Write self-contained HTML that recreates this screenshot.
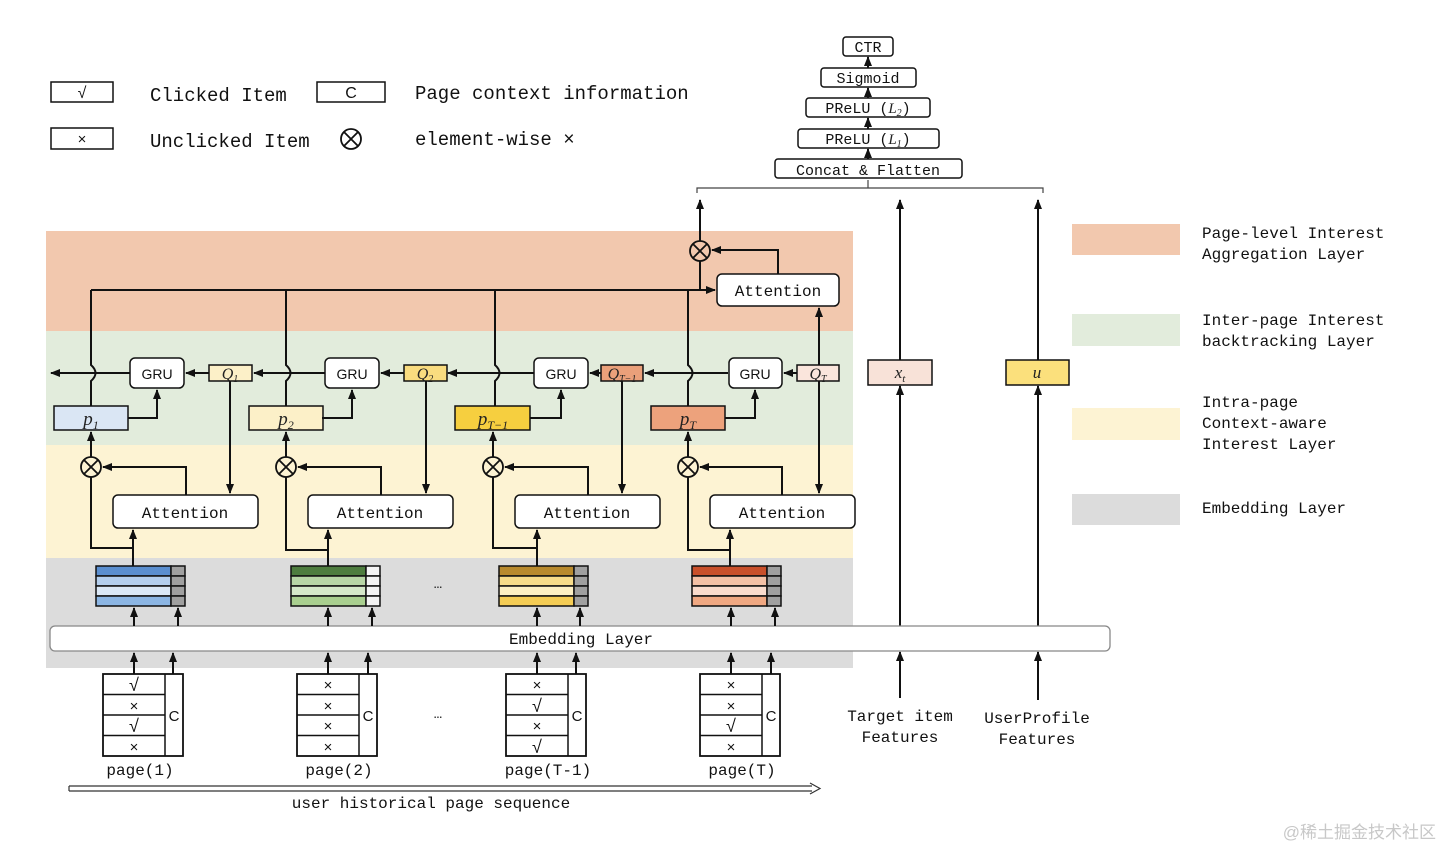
<!DOCTYPE html>
<html><head><meta charset="utf-8"><style>
html,body{margin:0;padding:0;background:#fff}
svg{display:block}
.m{font-family:"Liberation Mono",monospace;fill:#111}
.s{font-family:"Liberation Sans",sans-serif;fill:#111}
.i{font-family:"Liberation Serif",serif;font-style:italic;fill:#222}
.ln{stroke:#111;stroke-width:2;fill:none}
.bx{stroke:#111;stroke-width:1.5}
</style></head><body>
<svg width="1442" height="848" viewBox="0 0 1442 848" xmlns="http://www.w3.org/2000/svg">
<defs>
<marker id="a" markerWidth="10" markerHeight="10" refX="9" refY="5" orient="auto" markerUnits="userSpaceOnUse"><path d="M0,1 L10,5 L0,9 z" fill="#111"/></marker>
<g id="ot"><circle r="10" fill="none" stroke="#111" stroke-width="1.8"/><path d="M-7,-7 L7,7 M7,-7 L-7,7" stroke="#111" stroke-width="1.8"/></g>
</defs>

<!-- bands -->
<rect x="46" y="231" width="807" height="100" fill="#f2c8ae"/>
<rect x="46" y="331" width="807" height="114" fill="#e2ecdc"/>
<rect x="46" y="445" width="807" height="113" fill="#fdf3d3"/>
<rect x="46" y="558" width="807" height="110" fill="#dcdcdc"/>

<!-- legend top -->
<rect x="51" y="82" width="62" height="20" fill="#fff" class="bx"/><text x="82" y="98" class="s" font-size="16" text-anchor="middle">√</text>
<text x="150" y="101" class="m" font-size="19">Clicked Item</text>
<rect x="317" y="82" width="68" height="20" fill="#fff" class="bx"/><text x="351" y="98" class="s" font-size="16" text-anchor="middle">C</text>
<text x="415" y="99" class="m" font-size="19">Page context information</text>
<rect x="51" y="128" width="62" height="21" fill="#fff" class="bx"/><text x="82" y="144" class="s" font-size="15" text-anchor="middle">×</text>
<text x="150" y="147" class="m" font-size="19">Unclicked Item</text>
<use href="#ot" x="351" y="139"/>
<text x="415" y="145" class="m" font-size="19">element-wise ×</text>

<!-- right legend -->
<rect x="1072" y="224" width="108" height="31" fill="#f2c8ae"/>
<rect x="1072" y="314" width="108" height="32" fill="#e2ecdc"/>
<rect x="1072" y="408" width="108" height="32" fill="#fdf3d3"/>
<rect x="1072" y="494" width="108" height="31" fill="#dcdcdc"/>
<g class="m" font-size="16">
<text x="1202" y="238">Page-level Interest</text><text x="1202" y="259">Aggregation Layer</text>
<text x="1202" y="325">Inter-page Interest</text><text x="1202" y="346">backtracking Layer</text>
<text x="1202" y="407">Intra-page</text><text x="1202" y="428">Context-aware</text><text x="1202" y="449">Interest Layer</text>
<text x="1202" y="513">Embedding Layer</text>
</g>

<!-- top stack -->
<g fill="#fff" class="bx">
<rect x="843" y="37" width="50" height="19" rx="3"/>
<rect x="821" y="68" width="95" height="19" rx="3"/>
<rect x="806" y="98" width="124" height="19" rx="3"/>
<rect x="798" y="129" width="141" height="19" rx="3"/>
<rect x="775" y="159" width="187" height="19" rx="3"/>
</g>
<g class="m" font-size="15" text-anchor="middle">
<text x="868" y="52">CTR</text>
<text x="868" y="83">Sigmoid</text>
<text x="868" y="113">PReLU (<tspan class="i">L</tspan><tspan class="i" font-size="10" dy="3">2</tspan><tspan dy="-3">)</tspan></text>
<text x="868" y="144">PReLU (<tspan class="i">L</tspan><tspan class="i" font-size="10" dy="3">1</tspan><tspan dy="-3">)</tspan></text>
<text x="868" y="175">Concat &amp; Flatten</text>
</g>
<g class="ln" stroke-width="1.5" marker-end="url(#a)">
<path d="M868 68 L868 57"/><path d="M868 98 L868 88"/><path d="M868 129 L868 118"/><path d="M868 159 L868 149"/>
</g>
<path d="M697 193 L697 188 L1043 188 L1043 193 M868 188 L868 180" stroke="#444" stroke-width="1.2" fill="none"/>

<!-- right columns -->
<rect x="868" y="360" width="64" height="25" fill="#f8e2d8" class="bx"/>
<text x="900" y="378" class="i" font-size="17" text-anchor="middle">x<tspan font-size="11" dy="4">t</tspan></text>
<rect x="1006" y="360" width="63" height="25" fill="#fbe07c" class="bx"/>
<text x="1037" y="378" class="i" font-size="17" text-anchor="middle">u</text>
<g class="ln" stroke-width="1.8" marker-end="url(#a)">
<path d="M900 360 L900 200"/><path d="M900 626 L900 386"/><path d="M900 698 L900 652"/>
<path d="M1038 360 L1038 200"/><path d="M1038 626 L1038 386"/><path d="M1038 700 L1038 652"/>
<path d="M700 241 L700 200"/>
</g>
<g class="m" font-size="16" text-anchor="middle">
<text x="900" y="721">Target item</text><text x="900" y="742">Features</text>
<text x="1037" y="723">UserProfile</text><text x="1037" y="744">Features</text>
</g>

<!-- top aggregation -->
<path class="ln" d="M91 290 L715 290" marker-end="url(#a)"/>
<path class="ln" d="M700 290 L700 261"/>
<use href="#ot" x="700" y="251"/>
<rect x="717" y="274" width="122" height="32" rx="5" fill="#fff" class="bx"/>
<text x="778" y="296" class="m" font-size="16" text-anchor="middle">Attention</text>
<path class="ln" d="M778 274 L778 250 L712 250" marker-end="url(#a)"/>
<path class="ln" d="M819 365 L819 308" marker-end="url(#a)"/>

<!-- embedding layer -->
<rect x="50" y="626" width="1060" height="25" rx="5" fill="#fff" stroke="#888" stroke-width="1.3"/>
<text x="581" y="644" class="m" font-size="16" text-anchor="middle">Embedding Layer</text>

<!-- GRU chain horizontal lines -->
<g class="ln" marker-end="url(#a)">
<path d="M130 373 L51 373"/><path d="M209 373 L186 373"/>
<path d="M325 373 L254 373"/><path d="M404 373 L381 373"/>
<path d="M534 373 L448 373"/><path d="M601 373 L590 373"/>
<path d="M728 373 L645 373"/><path d="M797 373 L784 373"/>
</g>

<!-- group 1 -->
<g>
<path class="ln" d="M91 406 L91 381 Q100 373 91 365 L91 290"/>
<rect x="130" y="358" width="54" height="30" rx="5" fill="#fff" class="bx"/>
<text x="157" y="379" class="s" font-size="14" text-anchor="middle">GRU</text>
<rect x="209" y="365" width="43" height="16" fill="#fcf0c8" class="bx"/>
<text x="230" y="379" class="i" font-size="16" text-anchor="middle">Q<tspan font-size="10" dy="3">1</tspan></text>
<rect x="54" y="406" width="74" height="24" fill="#dae6f4" class="bx"/>
<text x="91" y="425" class="i" font-size="19" text-anchor="middle">p<tspan font-size="12" dy="4">1</tspan></text>
<use href="#ot" x="91" y="467"/>
<rect x="113" y="495" width="145" height="33" rx="5" fill="#fff" class="bx"/>
<text x="185" y="518" class="m" font-size="16" text-anchor="middle">Attention</text>
<rect x="96" y="566" width="75" height="10" fill="#5b8fd0" class="bx" stroke-width="1.2"/>
<rect x="96" y="576" width="75" height="10" fill="#b4cfee" class="bx" stroke-width="1.2"/>
<rect x="96" y="586" width="75" height="10" fill="#dbe8f6" class="bx" stroke-width="1.2"/>
<rect x="96" y="596" width="75" height="10" fill="#8cb6e4" class="bx" stroke-width="1.2"/>
<g fill="#a0a0a0" class="bx" stroke-width="1.2"><rect x="171" y="566" width="14" height="10"/><rect x="171" y="576" width="14" height="10"/><rect x="171" y="586" width="14" height="10"/><rect x="171" y="596" width="14" height="10"/></g>
</g>
<!-- group 2 -->
<g transform="translate(195,0)">
<path class="ln" d="M91 406 L91 381 Q100 373 91 365 L91 290"/>
<rect x="130" y="358" width="54" height="30" rx="5" fill="#fff" class="bx"/>
<text x="157" y="379" class="s" font-size="14" text-anchor="middle">GRU</text>
<rect x="209" y="365" width="43" height="16" fill="#f9dc7f" class="bx"/>
<text x="230" y="379" class="i" font-size="16" text-anchor="middle">Q<tspan font-size="10" dy="3">2</tspan></text>
<rect x="54" y="406" width="74" height="24" fill="#fcf0c8" class="bx"/>
<text x="91" y="425" class="i" font-size="19" text-anchor="middle">p<tspan font-size="12" dy="4">2</tspan></text>
<use href="#ot" x="91" y="467"/>
<rect x="113" y="495" width="145" height="33" rx="5" fill="#fff" class="bx"/>
<text x="185" y="518" class="m" font-size="16" text-anchor="middle">Attention</text>
<rect x="96" y="566" width="75" height="10" fill="#4e7d3f" class="bx" stroke-width="1.2"/>
<rect x="96" y="576" width="75" height="10" fill="#b8d6a6" class="bx" stroke-width="1.2"/>
<rect x="96" y="586" width="75" height="10" fill="#d5e8c9" class="bx" stroke-width="1.2"/>
<rect x="96" y="596" width="75" height="10" fill="#a9cf8f" class="bx" stroke-width="1.2"/>
<g fill="#f4f4f4" class="bx" stroke-width="1.2"><rect x="171" y="566" width="14" height="10"/><rect x="171" y="576" width="14" height="10"/><rect x="171" y="586" width="14" height="10"/><rect x="171" y="596" width="14" height="10"/></g>
</g>
<!-- group 3 -->
<g transform="translate(404,0)">
<path class="ln" d="M91 406 L91 381 Q100 373 91 365 L91 290"/>
<rect x="130" y="358" width="54" height="30" rx="5" fill="#fff" class="bx"/>
<text x="157" y="379" class="s" font-size="14" text-anchor="middle">GRU</text>
<rect x="197" y="365" width="42" height="16" fill="#eaa07a" class="bx"/>
<text x="218" y="379" class="i" font-size="16" text-anchor="middle">Q<tspan font-size="10" dy="3">T−1</tspan></text>
<rect x="51" y="406" width="75" height="24" fill="#f6cf3f" class="bx"/>
<text x="89" y="425" class="i" font-size="19" text-anchor="middle">p<tspan font-size="12" dy="4">T−1</tspan></text>
<use href="#ot" x="89" y="467"/>
<rect x="111" y="495" width="145" height="33" rx="5" fill="#fff" class="bx"/>
<text x="183" y="518" class="m" font-size="16" text-anchor="middle">Attention</text>
<rect x="95" y="566" width="75" height="10" fill="#b88a2e" class="bx" stroke-width="1.2"/>
<rect x="95" y="576" width="75" height="10" fill="#f7dc8a" class="bx" stroke-width="1.2"/>
<rect x="95" y="586" width="75" height="10" fill="#fdf0c4" class="bx" stroke-width="1.2"/>
<rect x="95" y="596" width="75" height="10" fill="#f5cd55" class="bx" stroke-width="1.2"/>
<g fill="#a0a0a0" class="bx" stroke-width="1.2"><rect x="170" y="566" width="14" height="10"/><rect x="170" y="576" width="14" height="10"/><rect x="170" y="586" width="14" height="10"/><rect x="170" y="596" width="14" height="10"/></g>
</g>
<!-- group 4 -->
<g transform="translate(598,0)">
<path class="ln" d="M90 406 L90 381 Q99 373 90 365 L90 290"/>
<rect x="131" y="358" width="53" height="30" rx="5" fill="#fff" class="bx"/>
<text x="157" y="379" class="s" font-size="14" text-anchor="middle">GRU</text>
<rect x="199" y="365" width="42" height="16" fill="#fae5dc" class="bx"/>
<text x="220" y="379" class="i" font-size="16" text-anchor="middle">Q<tspan font-size="10" dy="3">T</tspan></text>
<rect x="53" y="406" width="74" height="24" fill="#eda27c" class="bx"/>
<text x="90" y="425" class="i" font-size="19" text-anchor="middle">p<tspan font-size="12" dy="4">T</tspan></text>
<use href="#ot" x="90" y="467"/>
<rect x="112" y="495" width="145" height="33" rx="5" fill="#fff" class="bx"/>
<text x="184" y="518" class="m" font-size="16" text-anchor="middle">Attention</text>
<rect x="94" y="566" width="75" height="10" fill="#c9502b" class="bx" stroke-width="1.2"/>
<rect x="94" y="576" width="75" height="10" fill="#f4c1a6" class="bx" stroke-width="1.2"/>
<rect x="94" y="586" width="75" height="10" fill="#fadccd" class="bx" stroke-width="1.2"/>
<rect x="94" y="596" width="75" height="10" fill="#f0a882" class="bx" stroke-width="1.2"/>
<g fill="#a0a0a0" class="bx" stroke-width="1.2"><rect x="169" y="566" width="14" height="10"/><rect x="169" y="576" width="14" height="10"/><rect x="169" y="586" width="14" height="10"/><rect x="169" y="596" width="14" height="10"/></g>
</g>

<!-- connectors per group -->
<g class="ln" marker-end="url(#a)">
<!-- p->GRU -->
<path d="M128 418 L157 418 L157 390"/><path d="M322 418 L352 418 L352 390"/>
<path d="M530 418 L561 418 L561 390"/><path d="M725 418 L755 418 L755 390"/>
<!-- Q->Attention -->
<path d="M230 381 L230 493"/><path d="M426 381 L426 493"/>
<path d="M622 381 L622 493"/><path d="M819 381 L819 493"/>
<!-- otimes->p -->
<path d="M91 457 L91 432"/><path d="M286 457 L286 432"/><path d="M493 457 L493 432"/><path d="M688 457 L688 432"/>
<!-- Attn -> otimes -->
<path d="M186 495 L186 467 L103 467"/><path d="M381 495 L381 467 L298 467"/>
<path d="M588 495 L588 467 L505 467"/><path d="M782 495 L782 467 L700 467"/>
<!-- emb -> attention -->
<path d="M133 566 L133 530"/><path d="M328 566 L328 530"/><path d="M537 566 L537 530"/><path d="M730 566 L730 530"/>
<!-- embedding layer -> emb -->
<path d="M134 626 L134 608"/><path d="M178 626 L178 608"/>
<path d="M328 626 L328 608"/><path d="M372 626 L372 608"/>
<path d="M537 626 L537 608"/><path d="M580 626 L580 608"/>
<path d="M731 626 L731 608"/><path d="M775 626 L775 608"/>
<!-- page -> embedding layer -->
<path d="M134 674 L134 653"/><path d="M173 674 L173 653"/>
<path d="M328 674 L328 653"/><path d="M368 674 L368 653"/>
<path d="M537 674 L537 653"/><path d="M576 674 L576 653"/>
<path d="M731 674 L731 653"/><path d="M771 674 L771 653"/>
</g>
<g class="ln">
<path d="M91 477 L91 548 L133 548"/><path d="M286 477 L286 550 L328 550"/>
<path d="M493 477 L493 548 L537 548"/><path d="M688 477 L688 550 L730 550"/>
</g>
<text x="438" y="588" class="m" font-size="14" text-anchor="middle">…</text>
<text x="438" y="718" class="m" font-size="14" text-anchor="middle">…</text>

<!-- pages -->
<g fill="#fff" stroke="#111" stroke-width="1.8">
<rect x="103" y="674" width="80" height="82"/><rect x="297" y="674" width="80" height="82"/>
<rect x="506" y="674" width="80" height="82"/><rect x="700" y="674" width="80" height="82"/>
</g>
<g stroke="#111" stroke-width="1.5">
<path d="M165 674 L165 756 M103 694.5 L165 694.5 M103 715 L165 715 M103 735.5 L165 735.5"/>
<path d="M359 674 L359 756 M297 694.5 L359 694.5 M297 715 L359 715 M297 735.5 L359 735.5"/>
<path d="M568 674 L568 756 M506 694.5 L568 694.5 M506 715 L568 715 M506 735.5 L568 735.5"/>
<path d="M762 674 L762 756 M700 694.5 L762 694.5 M700 715 L762 715 M700 735.5 L762 735.5"/>
</g>
<g class="s" font-size="15" text-anchor="middle">
<text x="134" y="691" font-size="18">√</text><text x="134" y="711">×</text><text x="134" y="732" font-size="18">√</text><text x="134" y="752">×</text>
<text x="328" y="690">×</text><text x="328" y="711">×</text><text x="328" y="731">×</text><text x="328" y="752">×</text>
<text x="537" y="690">×</text><text x="537" y="712" font-size="18">√</text><text x="537" y="731">×</text><text x="537" y="753" font-size="18">√</text>
<text x="731" y="690">×</text><text x="731" y="711">×</text><text x="731" y="732" font-size="18">√</text><text x="731" y="752">×</text>
<text x="174" y="721">C</text><text x="368" y="721">C</text><text x="577" y="721">C</text><text x="771" y="721">C</text>
</g>
<g class="m" font-size="16" text-anchor="middle">
<text x="140" y="775">page(1)</text><text x="339" y="775">page(2)</text>
<text x="548" y="775">page(T-1)</text><text x="742" y="775">page(T)</text>
<text x="431" y="808">user historical page sequence</text>
</g>
<path d="M69 786 L812 786 M69 791 L812 791 M69 786 L69 791" stroke="#333" stroke-width="1.2" fill="none"/>
<path d="M810 783 L820 788.5 L810 794" stroke="#333" stroke-width="1.2" fill="none"/>

<text x="1436" y="838" font-family="Liberation Sans, Noto Sans CJK SC, sans-serif" font-size="17" fill="#c8c8c8" text-anchor="end">@稀土掘金技术社区</text>
</svg>
</body></html>
